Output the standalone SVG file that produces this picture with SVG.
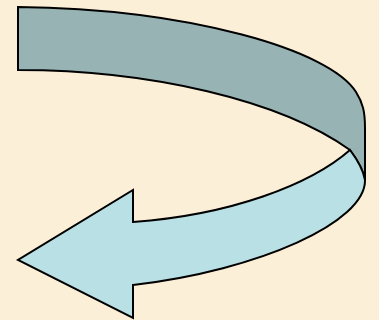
<svg xmlns="http://www.w3.org/2000/svg" width="379" height="320" viewBox="0 0 379 320">
<style>
.s{stroke:#000;stroke-width:2;stroke-linejoin:miter}
.back{fill:#97B3B4}
.front{fill:#B9E0E4}
</style>
<rect width="379" height="320" fill="#FCEFD7"/>
<g id="arrow-back">
<path class="s back" d="M18,7 C190,9 330,50 356,92 C363,103 365,112 365,128 L365,180 C363,168 356,158 350,150 C280,100 150,70 18,70 Z"/>
</g>
<g id="arrow-front">
<path class="s front" d="M350,150 C356,158 363,168 365,180 C366,222 260,270 133,285 L133,318 L18,260 L133,190 L133,222 C230,215 310,185 350,150 Z"/>
</g>
</svg>
